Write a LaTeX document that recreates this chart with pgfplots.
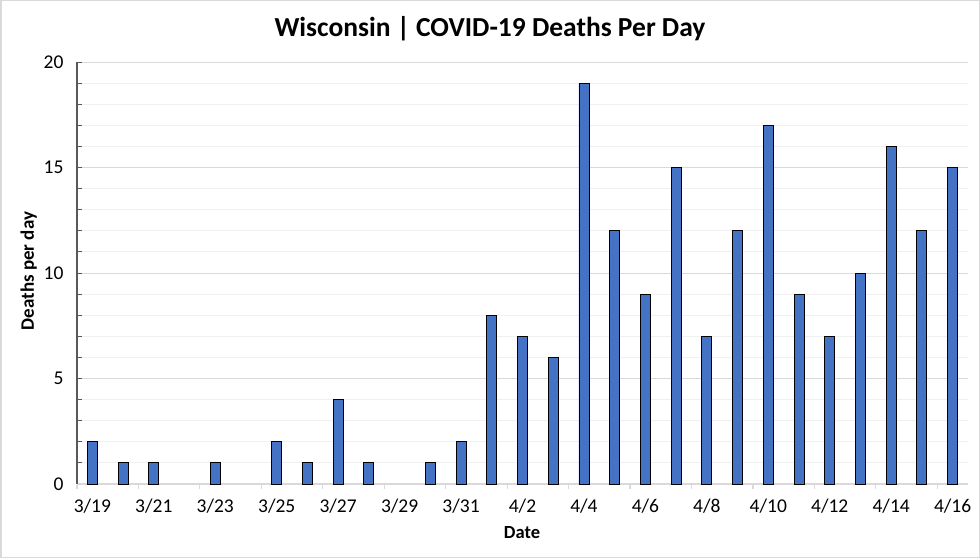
\documentclass[border=0pt]{standalone}
\usepackage{pgfplots}
\pgfplotsset{compat=1.18}
\usepackage{fontspec}
\setmainfont{Carlito}
\definecolor{barblue}{HTML}{4472C4}
\definecolor{gridmajor}{HTML}{D9D9D9}
\definecolor{gridminor}{HTML}{F0F0F0}
\definecolor{axisdark}{HTML}{595959}
\definecolor{framegray}{HTML}{D9D9D9}
\begin{document}
\begin{tikzpicture}[x=1pt,y=1pt]
\useasboundingbox (0,0) rectangle (980,558);
\draw[framegray, line width=1.5pt] (0.75,0.75) rectangle (979.25,557.25);
\begin{axis}[
  at={(77pt,74pt)}, anchor=south west,
  scale only axis, width=891pt, height=422pt,
  xmin=-0.5, xmax=28.5, ymin=0, ymax=20,
  axis x line*=bottom, axis y line*=left,
  x axis line style={draw=gridmajor, line width=1.2pt, -},
  y axis line style={draw=axisdark, line width=1.5pt, -},
  ytick={0,5,10,15,20},
  minor ytick={1,2,3,4,6,7,8,9,11,12,13,14,16,17,18,19},
  ymajorgrids, yminorgrids,
  major grid style={draw=gridmajor, line width=1pt},
  minor grid style={draw=gridminor, line width=1pt},
  tick align=inside,
  major tick length=4.5pt, minor tick length=4.5pt,
  tick style={draw=axisdark, line width=1pt},
  xtick={-0.5,1.5,...,27.5},
  xticklabels={3/19,3/21,3/23,3/25,3/27,3/29,3/31,4/2,4/4,4/6,4/8,4/10,4/12,4/14,4/16},
  xtick style={draw=gridmajor, line width=1.2pt, yshift=-5pt},
  xticklabel style={xshift=15.36pt, yshift=-11pt},
  yticklabel style={xshift=-10pt},
  tick label style={font=\fontsize{19.5}{22}\selectfont},
  /pgf/number format/assume math mode=true,
]
\addplot[ybar, bar width=10pt, fill=barblue, draw=black, line width=0.9pt]
  coordinates {
  (0,2) (1,1) (2,1) (4,1) (6,2) (7,1) (8,4) (9,1) (11,1) (12,2)
  (13,8) (14,7) (15,6) (16,19) (17,12) (18,9) (19,15) (20,7) (21,12)
  (22,17) (23,9) (24,7) (25,10) (26,16) (27,12) (28,15)
  };
\end{axis}
\node[anchor=base, font=\fontsize{27.5}{32}\selectfont\bfseries] at (490,521) {Wisconsin | COVID-19 Deaths Per Day};
\node[anchor=base, font=\fontsize{18.5}{22}\selectfont\bfseries] at (522,20) {Date};
\node[anchor=base, rotate=90, font=\fontsize{19}{22}\selectfont\bfseries] at (34,287) {Deaths per day};
\end{tikzpicture}
\end{document}
